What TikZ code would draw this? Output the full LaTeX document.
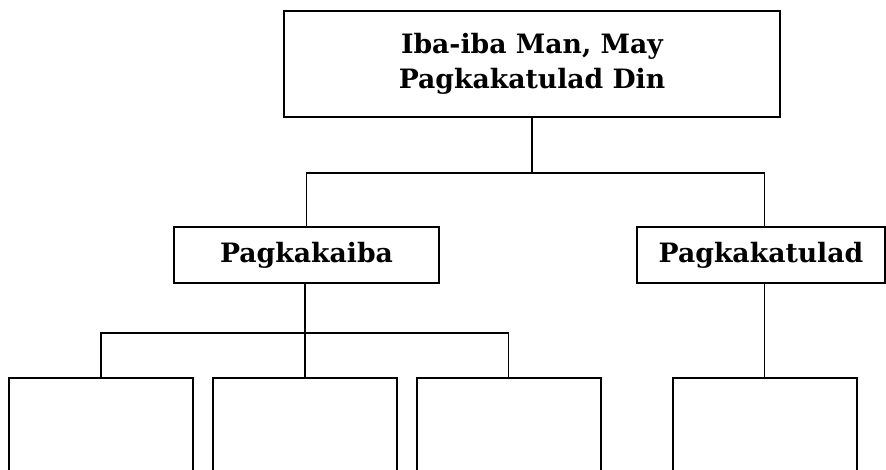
\documentclass[tikz,border=0pt]{standalone}
\usepackage{fontspec}
\setmainfont{DejaVu Serif}
\usepackage{xcolor}
\definecolor{gray-900}{RGB}{0,0,0}
\usetikzlibrary{positioning}

\begin{document}
\begin{tikzpicture}[
    x=0.75pt, y=-0.75pt,
    every node/.style={inner sep=0pt},
    box/.style={
        draw=gray-900,
        line width=1.5pt,
        fill=white,
        align=center,
        font=\fontsize{20}{26}\selectfont\bfseries
    },
    answer/.style={box, minimum width=138pt, minimum height=106.5pt},
    link/.style={draw=gray-900, line width=1pt}
]

% Page size and clipping of the open lower boxes
\useasboundingbox (0,0) rectangle (886,470);
\clip (0,0) rectangle (886,470);

% Title box
\node[box, minimum width=372pt, minimum height=79.5pt] (title) at (532,64) {Iba-iba Man, May\\Pagkakatulad Din};

% Second level
\node[box, minimum width=198.75pt, minimum height=42pt] (diff) at (306.5,255) {Pagkakaiba};
\node[box, minimum width=186pt, minimum height=42pt] (sim) at (761,255) {Pagkakatulad};

% Empty answer boxes (run off the page)
\node[answer] (low1) at (101,449) {};
\node[answer] (low2) at (305,449) {};
\node[answer] (low3) at (508.5,449) {};
\node[answer] (low4) at (764.5,449) {};

% Bus lines
\coordinate (bus) at (0,173);
\coordinate (bus2) at (0,333);

% Title to second level
\draw[link] (title.south) -- (title.south |- bus);
\draw[link] (diff.north) |- (bus -| low4) -- (low4 |- sim.north);

% Pagkakaiba to its boxes
\draw[link] (low2 |- diff.south) -- (low2.north);
\draw[link] (low1.north) |- (bus2 -| low3) -- (low3.north);

% Pagkakatulad to its box
\draw[link] (low4 |- sim.south) -- (low4.north);

\end{tikzpicture}
\end{document}
